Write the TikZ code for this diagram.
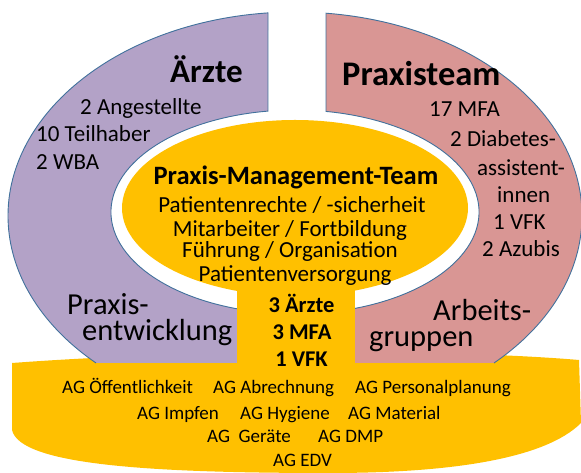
\documentclass[tikz,border=0pt]{standalone}
\usepackage{fontspec}
\setmainfont{Carlito}
\definecolor{lila}{HTML}{B3A2C7}
\definecolor{rosa}{HTML}{D99694}
\definecolor{gelb}{HTML}{FFC000}
\definecolor{rand}{HTML}{41719C}
\begin{document}
\begin{tikzpicture}[x=1pt,y=1pt,
  tw/.style={inner sep=0pt,anchor=base west},
  tc/.style={inner sep=0pt,anchor=base},
  titel/.style={font=\fontsize{33}{36}\selectfont\bfseries},
  norm/.style={font=\fontsize{23}{27}\selectfont},
  gross/.style={font=\fontsize{30.5}{26}\selectfont},
  mtitel/.style={font=\fontsize{26.5}{30}\selectfont\bfseries},
  mfett/.style={font=\fontsize{22.5}{26}\selectfont\bfseries},
  ag/.style={font=\fontsize{19}{22}\selectfont},
  kante/.style={draw=rand,line width=0.9pt}]
\useasboundingbox (0,0) rectangle (581,473);
% bottom band
\fill[gelb] (12,110) .. controls (200,124) and (450,124) .. (579,113) -- (581,50)
  .. controls (545,14) and (450,0) .. (330,0) .. controls (150,0) and (20,8) .. (12,43) -- cycle;
% purple half ring
\fill[lila] (268,460.1) arc[start angle=95.4,end angle=226.1,x radius=287pt,y radius=204pt]
  -- (237,110) -- (237,164.2) arc[start angle=251.63,end angle=98.44,x radius=184pt,y radius=102pt] -- cycle;
\draw[kante] (237,164.2) arc[start angle=251.63,end angle=98.44,x radius=184pt,y radius=102pt]
  -- (268,460.1) arc[start angle=95.4,end angle=226.1,x radius=287pt,y radius=204pt];
% pink half ring
\fill[rosa] (326,459.8) arc[start angle=83.8,end angle=-46.1,x radius=287pt,y radius=204pt]
  -- (355,110) -- (355,164.6) arc[start angle=-70.97,end angle=80.3,x radius=184pt,y radius=102pt] -- cycle;
\draw[kante] (355,164.6) arc[start angle=-70.97,end angle=80.3,x radius=184pt,y radius=102pt]
  -- (326,459.8) arc[start angle=83.8,end angle=-46.1,x radius=287pt,y radius=204pt];
% central ellipse and strip
\fill[gelb] (295,265) ellipse[x radius=173pt,y radius=88pt];
\fill[gelb] (237,100) rectangle (355,265);
% Aerzte
\node[tw,titel] (aerzte) at (170,390) {Ärzte};
\node[tw,norm] (ang) at (80,358) {2 Angestellte};
\node[tw,norm] (teil) at (36,331) {10 Teilhaber};
\node[tw,norm] (wba) at (36,303) {2 WBA};
\node[tw,gross,align=left] (pe) at (67,132) {Praxis-\\\hspace*{15pt}entwicklung};
% Praxisteam
\node[tw,titel,font=\fontsize{34.5}{37}\selectfont\bfseries] (pteam) at (342,387) {Praxisteam};
\node[tw,norm] (mfa) at (429,356) {17 MFA};
\node[tw,norm] (dia) at (450,326) {2 Diabetes-};
\node[tw,norm] (ass) at (477,297) {assistent-};
\node[tw,norm] (inn) at (497,270) {innen};
\node[tw,norm] (vfk) at (493,243) {1 VFK};
\node[tw,norm] (azu) at (482,216) {2 Azubis};
\node[tw,gross,align=left] (agr) at (369,126) {\hspace*{64pt}Arbeits-\\gruppen};
% centre
\node[tc,mtitel] (pmt) at (296,288) {Praxis-Management-Team};
\node[tc,norm] (z1) at (292,260) {Patientenrechte / -sicherheit};
\node[tc,norm] (z2) at (290,236) {Mitarbeiter / Fortbildung};
\node[tc,norm] (z3) at (290,215) {Führung / Organisation};
\node[tc,norm] (z4) at (295,191) {Patientenversorgung};
\node[tc,mfett] (m1) at (301.5,160) {3 Ärzte};
\node[tc,mfett] (m2) at (302,133) {3 MFA};
\node[tc,mfett] (m3) at (301.5,106) {1 VFK};
% band texts
\node[tw,ag] (a1) at (62,79) {AG Öffentlichkeit};
\node[tw,ag] (a2) at (213,79) {AG Abrechnung};
\node[tw,ag] (a3) at (355,79) {AG Personalplanung};
\node[tw,ag] (a4) at (137,53) {AG Impfen};
\node[tw,ag] (a5) at (240,53) {AG Hygiene};
\node[tw,ag] (a6) at (348,53) {AG Material};
\node[tw,ag] (a7) at (207,30) {AG\ \ Geräte};
\node[tw,ag] (a8) at (318,30) {AG DMP};
\node[tw,ag] (a9) at (273,6) {AG EDV};
\end{tikzpicture}
\end{document}
